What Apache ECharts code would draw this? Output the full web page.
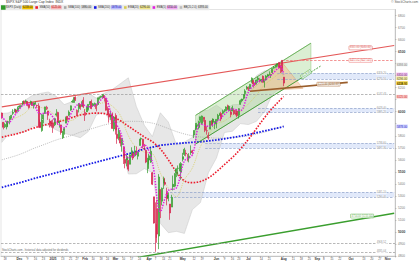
<!DOCTYPE html>
<html><head><meta charset="utf-8"><title>$SPX S&amp;P 500 Large Cap Index</title>
<script src="https://cdn.jsdelivr.net/npm/echarts@6/dist/echarts.min.js"></script>
<style>html,body{margin:0;padding:0;background:#fff;}#chart{width:420px;height:265px;}</style>
</head><body><div id="chart"></div>
<script>
// ---------- categories (trading days) ----------
const firstTradingDay = [2024, 10, 14];
const tradingDayCount = 246;
const marketHolidays = ['2024-11-28','2024-12-25','2025-01-01','2025-01-09','2025-01-20','2025-02-17','2025-04-18','2025-05-26','2025-06-19','2025-07-04','2025-09-01','2025-11-27'];
const monthAbbr = ['Jan','Feb','Mar','Apr','May','Jun','Jul','Aug','Sep','Oct','Nov','Dec'];

// ---------- daily candles [open, close, low, high] ----------
const candles = [
[5989,5949,5942,5993],[5912,5871,5853,5915],[5874,5894,5865,5908],[5873,5917,5853,5920],[5917,5917,5878,5920],
[5934,5949,5895,5964],[5947,5969,5944,5974],[5993,5987,5973,6021],[6000,6021,5996,6025],[6015,5998,5984,6021],
[6003,6032,6003,6044],[6040,6047,6026,6053],[6042,6050,6031,6053],[6069,6086,6051,6087],[6087,6075,6071,6093],
[6081,6090,6076,6100],[6084,6053,6045,6088],[6057,6034,6025,6066],[6061,6085,6060,6092],[6075,6051,6050,6080],
[6068,6051,6026,6078],[6063,6074,6059,6085],[6052,6050,6033,6058],[6048,5872,5867,6070],[5913,5867,5866,5935],
[5843,5931,5833,5982],[5940,5975,5903,5978],[5985,6040,5983,6041],[6025,6037,6014,6049],[6006,5971,5932,6006],
[5921,5907,5869,5941],[5920,5882,5869,5929],[5903,5869,5824,5935],[5891,5942,5880,5949],[5982,5975,5960,6021],
[5994,5909,5890,6000],[5910,5918,5868,5927],[5890,5827,5809,5891],[5783,5837,5774,5838],[5859,5843,5809,5871],
[5905,5950,5905,5960],[5962,5937,5925,5964],[5970,5997,5963,6011],[6014,6049,6007,6051],[6081,6086,6074,6100],
[6077,6119,6075,6119],[6121,6101,6089,6128],[5969,6012,5962,6018],[6026,6068,5994,6070],[6057,6039,6016,6063],
[6050,6071,6041,6087],[6096,6041,6030,6121],[5970,5994,5923,6022],[5999,6037,5996,6042],[6020,6061,6010,6062],
[6073,6084,6054,6084],[6084,6026,6021,6101],[6050,6066,6042,6073],[6049,6068,6043,6076],[6025,6052,6003,6063],
[6060,6115,6051,6116],[6115,6115,6101,6127],[6121,6129,6111,6129],[6118,6144,6111,6147],[6134,6118,6084,6134],
[6114,6013,6009,6115],[6026,5983,5978,6044],[5983,5955,5909,5992],[5971,5956,5932,6010],[5981,5861,5858,5994],
[5857,5955,5837,5959],[5969,5850,5810,5987],[5812,5778,5733,5866],[5781,5843,5762,5861],[5786,5739,5711,5813],
[5726,5770,5667,5783],[5705,5615,5565,5705],[5603,5572,5529,5636],[5625,5599,5546,5642],[5595,5522,5505,5598],
[5563,5639,5563,5645],[5635,5675,5626,5704],[5654,5615,5598,5654],[5633,5675,5626,5715],[5646,5663,5639,5711],
[5630,5668,5603,5670],[5719,5768,5719,5775],[5772,5777,5761,5786],[5771,5712,5694,5776],[5696,5693,5679,5732],
[5679,5581,5572,5685],[5527,5612,5489,5616],[5598,5633,5562,5651],[5581,5671,5574,5695],[5492,5397,5390,5500],
[5292,5074,5069,5292],[4953,5062,4835,5246],[5193,4982,4910,5267],[4966,5457,4857,5481],[5353,5268,5115,5353],
[5256,5363,5221,5370],[5441,5406,5358,5460],[5412,5397,5386,5450],[5335,5276,5221,5368],[5306,5283,5255,5329],
[5232,5158,5101,5232],[5207,5288,5207,5309],[5396,5376,5345,5469],[5381,5485,5371,5489],[5490,5525,5456,5528],
[5529,5529,5468,5553],[5508,5561,5505,5571],[5499,5569,5434,5581],[5626,5604,5586,5658],[5645,5687,5633,5700],
[5655,5650,5629,5683],[5606,5607,5587,5649],[5614,5631,5579,5655],[5663,5664,5641,5720],[5675,5660,5644,5683],
[5807,5844,5781,5845],[5854,5886,5846,5906],[5884,5892,5868,5907],[5869,5917,5854,5925],[5929,5958,5909,5958],
[5903,5964,5894,5968],[5954,5940,5917,5954],[5928,5845,5830,5939],[5841,5842,5809,5878],[5781,5803,5768,5829],
[5855,5922,5855,5922],[5925,5889,5886,5929],[5939,5912,5875,5944],[5903,5912,5855,5922],[5897,5936,5862,5937],
[5938,5970,5922,5982],[5978,5971,5966,5991],[5985,5939,5921,5999],[5987,6000,5978,6016],[6004,6006,5994,6022],
[6009,6039,6003,6044],[6049,6022,6013,6059],[6009,6045,6003,6050],[5997,5977,5953,6016],[6005,6033,6005,6050],
[6012,5983,5974,6023],[5987,5981,5970,6018],[6005,5967,5953,6019],[5970,6025,5943,6028],[6061,6092,6059,6102],
[6105,6092,6078,6108],[6112,6141,6101,6146],[6151,6173,6132,6187],[6194,6205,6182,6215],[6187,6198,6172,6211],
[6193,6227,6189,6228],[6244,6279,6242,6285],[6259,6230,6201,6263],[6238,6226,6214,6243],[6238,6263,6226,6267],
[6265,6280,6241,6290],[6256,6260,6245,6278],[6255,6269,6243,6272],[6295,6244,6244,6302],[6250,6264,6201,6267],
[6264,6297,6260,6304],[6305,6297,6286,6315],[6304,6306,6304,6336],[6306,6309,6281,6316],[6326,6359,6316,6360],
[6368,6363,6357,6381],[6371,6389,6366,6390],[6398,6390,6376,6402],[6410,6371,6358,6410],[6380,6363,6322,6392],
[6427,6339,6327,6427],[6287,6238,6212,6288]
];

// ---------- indicator readings (sampled at these trading-day indices) ----------
const sampleIdx = [0,4,9,14,19,24,29,34,39,44,49,54,59,64,69,74,79,84,89,94,99,104,109,114,119,124,129,134,139,144,149,154,159,164,169,174,176];
const ema5   = [5960,5910,5985,6058,6063,5983,5991,5915,5867,6004,6068,6041,6059,6124,5954,5833,5616,5653,5724,5579,5169,5345,5366,5590,5642,5899,5879,5914,5977,6023,6010,6162,6245,6263,6314,6375,6310];
const ema20  = [5900,5930,5950,5984,6035,6035,6012,5963,5924,5929,5980,6038,6056,6075,6046,5970,5801,5701,5664,5652,5491,5364,5293,5434,5533,5710,5807,5897,5923,5971,6003,6065,6139,6223,6274,6317,6296];
const sma50  = [5788,5800,5815,5835,5860,5880,5897,5912,5930,5952,5972,5984,5988,5984,5960,5925,5880,5835,5790,5750,5690,5600,5500,5425,5410,5420,5450,5500,5560,5620,5690,5770,5860,5950,6030,6100,6125];
const sma100 = [5600,5615,5635,5660,5690,5715,5740,5765,5785,5805,5830,5850,5870,5890,5905,5915,5920,5920,5915,5905,5885,5860,5835,5815,5800,5790,5785,5780,5780,5785,5790,5800,5815,5830,5850,5870,5880];
const sma200 = [5370,5385,5402,5420,5440,5458,5475,5493,5510,5527,5545,5563,5580,5598,5615,5633,5650,5668,5690,5705,5720,5728,5735,5740,5745,5750,5757,5765,5775,5785,5797,5810,5825,5840,5855,5870,5878];
const bbUpper = [5985,5990,6020,6091,6134,6152,6164,6128,6059,6084,6144,6155,6113,6153,6185,6233,6282,6044,5887,5793,5991,5914,5725,5748,5786,6004,6013,6054,6007,6058,6061,6193,6300,6340,6346,6399,6393];
const bbLower = [5745,5810,5820,5831,5874,5892,5884,5848,5819,5804,5784,5835,5973,5993,5905,5753,5482,5484,5527,5493,5071,4994,5005,4988,5186,5244,5493,5614,5827,5838,5901,5893,5920,6000,6146,6199,6213];

// ---------- drawn levels / zones / trend lines (index, price) ----------
const dashedLevels = [6147.43, 4908.52, 4835.04];
const resistanceLevel = 6427.02;
const resistanceStart = 175;
const zoneLow   = [6270.50, 5995.20, 5697.30, 5290.40];
const zoneHigh  = [6319.20, 6028.40, 5738.60, 5331.10];
const zoneStart = [172, 160, 127, 105];
const upperTrend = [[0, 6040], [245, 6551]];
const longTrend  = [[70, 4754], [245, 5155]];
const channelUpper = [[121, 5970], [193, 6570]];
const channelLower = [[121, 5731], [193, 6329]];
const channelLowerExt = [[193, 6329], [199, 6379]];
const brownLine = [[155, 6170], [216, 6244]];
const wedge = [[155, 6170], [175, 6410], [188, 6194]];

// ---------- axis ----------
const yMin = 4800, yMax = 6850, yStep = 100;

// ---------- layout constants ----------
const W = 420, H = 265, GRID = { left: 1, right: 25, top: 9.5, bottom: 9 };

// ---------- build categories ----------
const dates = [];
(function () {
  const d = new Date(Date.UTC(firstTradingDay[0], firstTradingDay[1], firstTradingDay[2]));
  while (dates.length < tradingDayCount) {
    const s = d.toISOString().slice(0, 10);
    const dow = d.getUTCDay();
    if (dow !== 0 && dow !== 6 && marketHolidays.indexOf(s) < 0) dates.push(s);
    d.setUTCDate(d.getUTCDate() + 1);
  }
})();
const tickLabels = {};
const monthStarts = [];
dates.forEach((s, i) => {
  if (i === 0) return;
  const p = new Date(dates[i - 1] + 'T00:00:00Z'), c = new Date(s + 'T00:00:00Z');
  if (p.getUTCMonth() !== c.getUTCMonth()) {
    monthStarts.push(i);
    tickLabels[i] = '{m|' + (c.getUTCMonth() === 0 ? String(c.getUTCFullYear()) : monthAbbr[c.getUTCMonth()]) + '}';
  } else if (c.getUTCDay() < p.getUTCDay() || (c - p) > 3 * 864e5) {
    tickLabels[i] = String(c.getUTCDate());
  }
});
// a weekly label that would crowd a month label is left out (as in the source chart)
monthStarts.forEach(m => {
  for (let j = m - 4; j <= m + 3; j++) if (j !== m && tickLabels[j] && tickLabels[j][0] !== '{') delete tickLabels[j];
});

const lastK = sampleIdx.length - 1;
const lastClose = candles[candles.length - 1][1];
const fmt = v => v.toFixed(2);
const FONT = 'Liberation Sans, Arial, sans-serif';

const candleItems = candles.map((d, k) => {
  const prev = k ? candles[k - 1][1] : d[0];
  const down = d[1] < prev;
  const filled = d[1] < d[0];
  const edge = down ? '#d6244c' : '#2f9a2a';
  const fill = filled ? edge : (down ? '#f2a2b6' : '#7cc86e');
  return { value: d, itemStyle: { color: fill, color0: fill, borderColor: edge, borderColor0: edge } };
});

const sampled = arr => sampleIdx.map((ix, k) => [ix, arr[k]]);
const lineAt = (seg, i) => seg[0][1] + (seg[1][1] - seg[0][1]) * (i - seg[0][0]) / (seg[1][0] - seg[0][0]);

function maLine(name, arr, color, width, dash, z) {
  return {
    type: 'line', name, data: sampled(arr), showSymbol: false, smooth: 0.35, z,
    lineStyle: { color, width, type: dash, cap: 'butt' }, itemStyle: { color }, silent: true
  };
}
function segLine(name, pts, color, width, type, z) {
  return { type: 'line', name, data: pts, showSymbol: false, z, silent: true,
    lineStyle: { color, width, type: type || 'solid' }, itemStyle: { color } };
}
function polygon(name, ptsFn, style, z) {
  return {
    type: 'custom', name, coordinateSystem: 'cartesian2d', data: [[0, yMin]], encode: { x: 0, y: 1 },
    clip: true, z, silent: true, itemStyle: { color: style.legend || style.fill },
    renderItem: (params, api) => ({ type: 'polygon', shape: { points: ptsFn(api) }, style: { fill: style.fill, stroke: style.stroke, lineWidth: style.lw } })
  };
}

const dashStyle = { color: '#9a9a9a', width: 0.7, type: [2.5, 1.5] };

// ----- value labels that sit on drawn lines -----
const lineTagData = [];
function addTag(i, p, text, color, border, pos, rot) {
  const item = { value: [i, p], label: { formatter: text, color, borderColor: border, position: pos } };
  if (rot) item.label.rotate = rot;
  lineTagData.push(item);
}
addTag(224, lineAt(upperTrend, 224), fmt(upperTrend[1][1]) + ' (' + fmt(upperTrend[0][1]) + ')', '#d83030', '#e06060', 'top');
addTag(224, resistanceLevel, fmt(resistanceLevel) + ' (' + fmt(resistanceLevel) + ')', '#d83030', '#f08080', 'inside');
dashedLevels.forEach(v => addTag(237, v, fmt(v), '#666', 'transparent', 'inside'));
zoneLow.forEach(v => addTag(237, v, fmt(v), '#666', 'transparent', 'inside'));
zoneHigh.forEach(v => addTag(237, v, fmt(v), '#666', 'transparent', 'inside'));
addTag(204, lineAt(brownLine, 204), fmt(brownLine[0][1]) + ' (' + fmt(brownLine[1][1]) + ')', '#8a5020', '#a86a38', 'inside');
addTag(190, lineAt(channelLowerExt, 190) + 8, fmt(channelLowerExt[1][1]), '#3a9a2a', '#6ab85a', 'inside', 34);
addTag(225, lineAt(longTrend, 225), fmt(longTrend[0][1]) + ' (' + fmt(longTrend[1][1]) + ')', '#3a9a2a', '#6ab85a', 'top');

// ----- value boxes on the price axis (stacked so they do not collide) -----
const pxPerPt = (H - GRID.top - GRID.bottom) / (yMax - yMin);
const axisTags = [
  { v: bbUpper[lastK], bg: '#e6e6e6', c: '#555' },
  { v: ema5[lastK], bg: '#f3a6f3', c: '#222' },
  { v: ema20[lastK], bg: '#efe58a', c: '#222' },
  { v: lastClose, bg: '#f2c300', c: '#000', w: 'bold' },
  { v: sma50[lastK], bg: '#f8b4b4', c: '#b00' },
  { v: sma200[lastK], bg: '#bcbcff', c: '#00a' }
].sort((a, b) => b.v - a.v);
let prevY = -1e9;
axisTags.forEach(t => {
  const y = (yMax - t.v) * pxPerPt;
  const ny = Math.max(y, prevY + 3.8);
  t.dy = ny - y; t.py = ny; prevY = ny;
});
const tagHidesLabel = v => axisTags.some(t => Math.abs((yMax - v) * pxPerPt - t.py) < 3.4);

const legendInfo = {
  '$SPX (Daily)': ['p', fmt(lastClose)],
  'SMA(50)': ['r', fmt(sma50[lastK])],
  'SMA(100)': ['g', fmt(sma100[lastK])],
  'SMA(200)': ['b', fmt(sma200[lastK])],
  'EMA(20)': ['y', fmt(ema20[lastK])],
  'EMA(5)': ['m', fmt(ema5[lastK])],
  'BB(20,2.0)': ['w', fmt(bbUpper[lastK])]
};
const richBox = (bg, c) => ({ backgroundColor: bg, color: c || '#222', fontSize: 2.7, padding: [0.3, 0.6], fontFamily: FONT });

const chart = echarts.init(document.getElementById('chart'), null, { renderer: 'svg', width: W, height: H });
chart.setOption({
  animation: false,
  backgroundColor: '#ffffff',
  textStyle: { fontFamily: FONT },
  title: [
    { text: '$SPX S&P 500 Large Cap Index  INDX', left: 6, top: 0.5, padding: 0,
      textStyle: { fontSize: 3.3, fontWeight: 'normal', color: '#333', fontFamily: FONT } },
    { text: '© StockCharts.com', right: 2, top: 0.5, padding: 0,
      textStyle: { fontSize: 3.1, fontWeight: 'normal', color: '#555', fontFamily: FONT } },
    { text: 'StockCharts.com - historical data adjusted for dividends', left: 2, top: 249, padding: 0,
      textStyle: { fontSize: 2.7, fontWeight: 'normal', color: '#666', fontFamily: FONT } }
  ],
  legend: {
    left: 0, top: 4.8, padding: [0.4, 1], itemGap: 2.2, itemWidth: 2.6, itemHeight: 2.6, icon: 'rect',
    backgroundColor: '#ececec', selectedMode: false,
    data: Object.keys(legendInfo),
    textStyle: { fontSize: 2.7, color: '#333', padding: [0, 0, 0, -3.5], fontFamily: FONT,
      rich: { p: richBox('#f2c300'), r: richBox('#f8b4b4', '#a00'), g: richBox('#dddddd'), b: richBox('#bcbcff', '#00a'),
              y: richBox('#efe58a'), m: richBox('#f3a6f3'), w: richBox('#e2e2e2') } },
    formatter: n => n + ' {' + legendInfo[n][0] + '|' + legendInfo[n][1] + '}'
  },
  grid: { left: GRID.left, right: GRID.right, top: GRID.top, bottom: GRID.bottom, show: true, borderColor: '#c8c8c8', borderWidth: 0.5, backgroundColor: '#fff' },
  xAxis: {
    type: 'category', data: dates, boundaryGap: true,
    axisLine: { show: true, lineStyle: { color: '#999', width: 0.5 } },
    axisTick: { show: true, length: 1.5, interval: i => tickLabels[i] !== undefined, lineStyle: { color: '#999', width: 0.5 } },
    axisLabel: { interval: i => tickLabels[i] !== undefined, formatter: (v, i) => tickLabels[i] || '',
      fontSize: 2.9, color: '#555', margin: 1.5, fontFamily: FONT, hideOverlap: false,
      rich: { m: { fontSize: 3.1, fontWeight: 'bold', color: '#333', fontFamily: FONT } } },
    splitLine: { show: false }
  },
  yAxis: {
    type: 'value', position: 'right', min: yMin, max: yMax, interval: yStep,
    axisLine: { show: true, lineStyle: { color: '#999', width: 0.5 } },
    axisTick: { show: true, length: 1.5, lineStyle: { color: '#999', width: 0.5 } },
    axisLabel: { fontSize: 3.1, color: '#777', margin: 3, showMaxLabel: false, fontFamily: FONT,
      formatter: v => (tagHidesLabel(v) ? '' : (v % 500 === 0 ? '{b|' + v + '}' : String(v))),
      rich: { b: { fontSize: 3.3, fontWeight: 'bold', color: '#444', fontFamily: FONT } } },
    splitLine: { show: false }
  },
  series: [
    // support zones and horizontal levels
    { type: 'line', name: 'levels', data: [], z: 1, silent: true,
      markArea: { silent: true, itemStyle: { color: 'rgba(176,196,242,0.38)' },
        data: zoneLow.map((lo, k) => [{ xAxis: zoneStart[k], yAxis: lo }, { xAxis: tradingDayCount - 1, yAxis: zoneHigh[k] }]) },
      markLine: { silent: true, symbol: ['none', 'none'], label: { show: false },
        data: dashedLevels.map(v => ({ yAxis: v, lineStyle: dashStyle }))
          .concat(zoneLow.concat(zoneHigh).map((v, k) => [
            { coord: [zoneStart[k % zoneStart.length], v], lineStyle: { color: '#8ea0c8', width: 0.7, type: [2.5, 1.5] } },
            { coord: [tradingDayCount - 1, v] }]))
          .concat([[{ coord: [resistanceStart, resistanceLevel], lineStyle: { color: '#f07a7a', width: 0.8, type: [2.5, 1.5] } },
                    { coord: [tradingDayCount - 1, resistanceLevel] }]]) } },
    // Bollinger band
    polygon('BB(20,2.0)', api => sampleIdx.map((ix, k) => api.coord([ix, bbUpper[k]]))
      .concat(sampleIdx.map((ix, k) => api.coord([ix, bbLower[k]])).reverse()),
      { fill: 'rgba(222,222,222,0.72)', stroke: '#c6c6c6', lw: 0.5, legend: '#bdbdbd' }, 2),
    // rising channel and wedge
    polygon('channel', api => [channelUpper[0], channelUpper[1], channelLower[1], channelLower[0]].map(p => api.coord(p)),
      { fill: 'rgba(160,214,140,0.38)', stroke: '#8cc47c', lw: 0.5 }, 3),
    polygon('wedge', api => wedge.map(p => api.coord(p)),
      { fill: 'rgba(245,192,146,0.55)', stroke: '#dfa071', lw: 0.5 }, 3),
    maLine('SMA(100)', sma100, '#a8a8a8', 0.8, [1, 1.2], 4),
    maLine('SMA(200)', sma200, '#1418e6', 1.8, [1.6, 1.4], 4),
    maLine('SMA(50)', sma50, '#ec1c2c', 1.6, [1.6, 1.4], 4),
    maLine('EMA(20)', ema20, '#d6cc54', 0.7, [1, 1], 4),
    segLine('upper trend', upperTrend, '#e45858', 1.1, 'solid', 4),
    segLine('long trend', longTrend, '#3a9e2e', 1.4, 'solid', 4),
    segLine('channel top', channelUpper, '#5aa84a', 0.8, 'solid', 4),
    segLine('channel bottom', channelLower, '#3e9a32', 0.9, 'solid', 4),
    segLine('channel ext', channelLowerExt, '#3e9a32', 0.9, [2, 1.2], 4),
    segLine('brown line', brownLine, '#9a5e2c', 1.6, 'solid', 4),
    { type: 'candlestick', name: '$SPX (Daily)', data: candleItems, barWidth: 1.5, z: 5,
      itemStyle: { color: '#2f9a2a', color0: '#d6244c', borderColor: '#2f9a2a', borderColor0: '#d6244c', borderWidth: 0.7 } },
    maLine('EMA(5)', ema5, '#e01ee0', 1.5, [1.4, 1.3], 6),
    // value boxes on lines
    { type: 'scatter', name: 'line tags', data: lineTagData, symbolSize: 0, z: 7, silent: true,
      label: { show: true, fontSize: 2.6, padding: [0.3, 0.8], backgroundColor: 'rgba(255,255,255,0.85)', borderWidth: 0.5, distance: 1, fontFamily: FONT } },
    // value boxes on the price axis
    { type: 'scatter', name: 'axis tags', symbolSize: 0, z: 8, silent: true,
      data: axisTags.map(t => ({ value: [tradingDayCount - 1, t.v],
        label: { formatter: fmt(t.v), backgroundColor: t.bg, color: t.c, fontWeight: t.w || 'normal', offset: [0, t.dy] } })),
      label: { show: true, position: 'right', distance: 2, fontSize: 2.8, padding: [0.3, 0.7], fontFamily: FONT } }
  ]
});
</script></body></html>
